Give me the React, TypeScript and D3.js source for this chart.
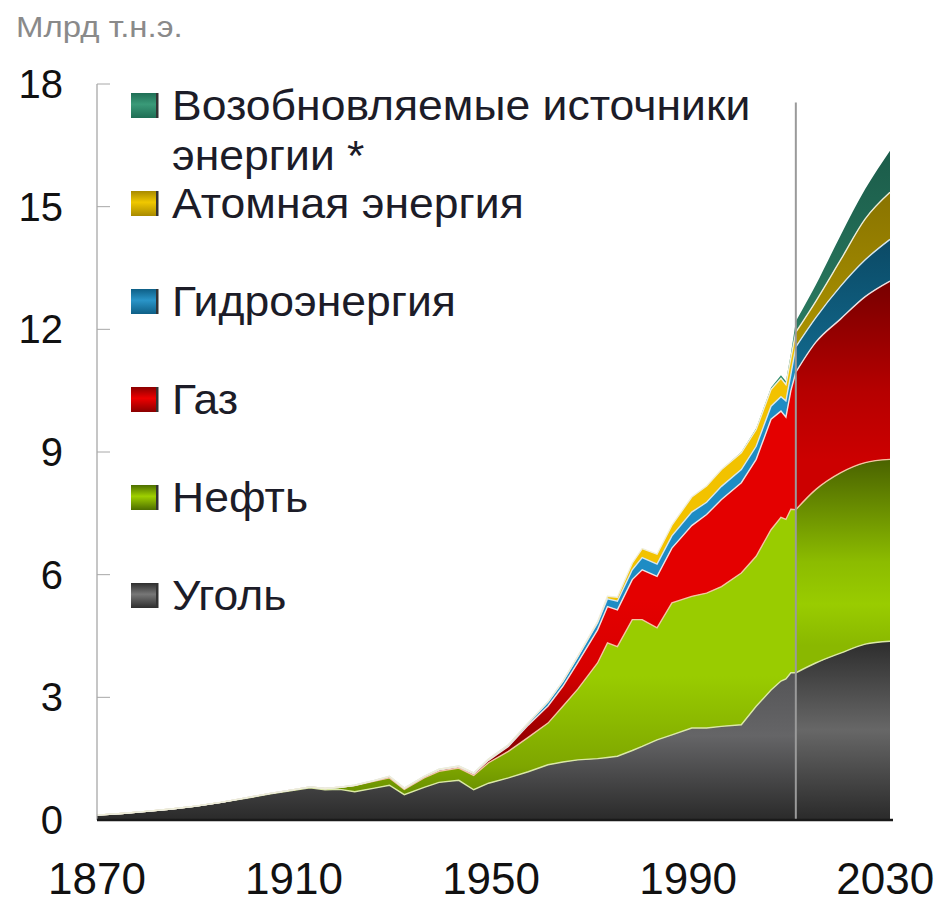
import React from "react";
import * as d3 from "d3";

// historical data, bln toe
const histYears = [1870, 1875, 1880, 1885, 1890, 1895, 1900, 1905, 1910, 1913, 1916, 1919, 1922, 1926, 1929, 1932, 1936, 1939, 1943, 1946, 1949, 1953, 1957, 1961, 1964, 1967, 1971, 1973, 1975, 1978, 1980, 1983, 1986, 1990, 1993, 1996, 2000, 2003, 2006, 2008, 2009, 2010];
const histCoal = [0.12, 0.16, 0.21, 0.27, 0.34, 0.43, 0.53, 0.64, 0.73, 0.79, 0.74, 0.75, 0.69, 0.78, 0.85, 0.62, 0.8, 0.92, 0.97, 0.74, 0.9, 1.03, 1.18, 1.35, 1.42, 1.47, 1.5, 1.53, 1.56, 1.7, 1.8, 1.96, 2.08, 2.25, 2.25, 2.29, 2.33, 2.78, 3.18, 3.4, 3.45, 3.6];
const histOil = [0, 0, 0, 0, 0, 0, 0.01, 0.01, 0.02, 0.02, 0.03, 0.05, 0.15, 0.17, 0.18, 0.13, 0.23, 0.27, 0.3, 0.35, 0.5, 0.65, 0.84, 1.02, 1.36, 1.73, 2.34, 2.8, 2.68, 3.2, 3.1, 2.74, 3.23, 3.22, 3.3, 3.42, 3.71, 3.67, 3.92, 4.0, 3.9, 4.0];
const histGas = [0, 0, 0, 0, 0, 0, 0, 0, 0, 0, 0, 0, 0.01, 0.02, 0.03, 0.02, 0.03, 0.03, 0.03, 0.04, 0.06, 0.12, 0.3, 0.42, 0.49, 0.65, 0.81, 0.89, 0.9, 0.98, 1.22, 1.26, 1.34, 1.73, 1.92, 2.13, 2.21, 2.37, 2.7, 2.6, 2.5, 2.9];
const histHydro = [0, 0, 0, 0, 0, 0, 0, 0, 0, 0, 0, 0, 0, 0, 0.01, 0.01, 0.01, 0.02, 0.02, 0.02, 0.03, 0.04, 0.05, 0.1, 0.12, 0.14, 0.17, 0.19, 0.21, 0.24, 0.3, 0.3, 0.3, 0.33, 0.3, 0.32, 0.32, 0.32, 0.32, 0.35, 0.4, 0.4];
const histNuclear = [0, 0, 0, 0, 0, 0, 0, 0, 0, 0, 0, 0, 0, 0, 0, 0, 0, 0, 0, 0, 0, 0, 0, 0, 0, 0.01, 0.03, 0.06, 0.1, 0.16, 0.22, 0.24, 0.26, 0.37, 0.4, 0.41, 0.41, 0.41, 0.41, 0.45, 0.4, 0.4];
const histRenew = [0, 0, 0, 0, 0, 0, 0, 0, 0, 0, 0, 0, 0, 0, 0, 0, 0, 0, 0, 0, 0, 0, 0, 0, 0, 0, 0, 0, 0, 0, 0, 0, 0, 0, 0, 0, 0.02, 0.03, 0.05, 0.08, 0.08, 0.1];

// forecast
const fcYears = [2011, 2015, 2020, 2025, 2030];
const fcCoal = [3.6, 3.84, 4.08, 4.3, 4.37];
const fcOil = [3.99, 4.24, 4.41, 4.44, 4.45];
const fcGas = [3.36, 3.6, 3.76, 4.06, 4.36];
const fcHydro = [0.62, 0.6, 0.8, 0.9, 1.02];
const fcNuclear = [0.36, 0.4, 0.64, 1.0, 1.15];
const fcRenew = [0.27, 0.4, 0.6, 0.73, 1.02];

const yTicks = [0, 3, 6, 9, 12, 15, 18];
const xTicks = [1870, 1910, 1950, 1990, 2030];
const keys = ["coal", "oil", "gas", "hydro", "nuclear", "renew"];

const legendItems = [
  { key: "renew", lines: ["Возобновляемые источники", "энергии *"] },
  { key: "nuclear", lines: ["Атомная энергия"] },
  { key: "hydro", lines: ["Гидроэнергия"] },
  { key: "gas", lines: ["Газ"] },
  { key: "oil", lines: ["Нефть"] },
  { key: "coal", lines: ["Уголь"] },
];

const histFill: Record<string, string> = {
  coal: "url(#hCoal)",
  oil: "url(#hOil)",
  gas: "url(#hGas)",
  hydro: "#1e8cc4",
  nuclear: "#f2c200",
  renew: "#2a8a6a",
};
const fcFill: Record<string, string> = {
  coal: "url(#fCoal)",
  oil: "url(#fOil)",
  gas: "url(#fGas)",
  hydro: "url(#fHydro)",
  nuclear: "url(#fNuc)",
  renew: "url(#fRen)",
};
const edgeColor: Record<string, string> = {
  coal: "#dbe9a6",
  oil: "#f3c6a2",
  gas: "#f1e2e2",
  hydro: "#d6e6ee",
  nuclear: "#f0eed8",
  renew: "none",
};
const swatchColor: Record<string, [string, string]> = {
  renew: ["#1f6e55", "#3a9a78"],
  nuclear: ["#a88a00", "#f0c800"],
  hydro: ["#0e5f86", "#2a95c8"],
  gas: ["#8a0000", "#ee0000"],
  oil: ["#4d6e00", "#9fd000"],
  coal: ["#2e2e2e", "#777777"],
};

function buildRows(years: number[], cols: number[][]) {
  return years.map((yr, i) => {
    const r: any = { year: yr };
    keys.forEach((k, j) => (r[k] = cols[j][i]));
    return r;
  });
}

const W = 946;
const H = 905;
const FONT = "'Liberation Sans', Arial, sans-serif";

export default function App() {
  const x = d3.scaleLinear().domain([1870, 2030]).range([97, 890]);
  const y = d3.scaleLinear().domain([0, 18]).range([820, 84]);

  const fcRows = buildRows(fcYears, [fcCoal, fcOil, fcGas, fcHydro, fcNuclear, fcRenew]);
  const histRows = buildRows(histYears, [histCoal, histOil, histGas, histHydro, histNuclear, histRenew]).concat([fcRows[0]]);

  const stack = d3.stack<any>().keys(keys);
  const histSeries = stack(histRows);
  const fcSeries = stack(fcRows);

  const areaH = d3.area<any>().x((d) => x(d.data.year)).y0((d) => y(d[0])).y1((d) => y(d[1]));
  const areaF = d3.area<any>().curve(d3.curveMonotoneX).x((d) => x(d.data.year)).y0((d) => y(d[0])).y1((d) => y(d[1]));
  const lineH = d3.line<any>().x((d) => x(d.data.year)).y((d) => y(d[1]));
  const lineF = d3.line<any>().curve(d3.curveMonotoneX).x((d) => x(d.data.year)).y((d) => y(d[1]));

  const splitX = x(fcYears[0]);

  return (
    <div style={{ position: "absolute", left: 0, top: 0 }}>
      <svg width={W} height={H} style={{ display: "block", background: "#fff" }} fontFamily={FONT}>
        <defs>
          <linearGradient id="hCoal" gradientUnits="userSpaceOnUse" x1="0" x2="0" y1="640" y2="820">
            <stop offset="0" stopColor="#4c4c4e" />
            <stop offset="0.53" stopColor="#656567" />
            <stop offset="1" stopColor="#2a2a2a" />
          </linearGradient>
          <linearGradient id="fCoal" gradientUnits="userSpaceOnUse" x1="0" x2="0" y1="640" y2="820">
            <stop offset="0" stopColor="#2c2c2c" />
            <stop offset="0.5" stopColor="#676767" />
            <stop offset="1" stopColor="#2a2a2a" />
          </linearGradient>
          <linearGradient id="hOil" gradientUnits="userSpaceOnUse" x1="0" x2="0" y1="460" y2="820">
            <stop offset="0" stopColor="#99cc00" />
            <stop offset="0.6" stopColor="#99cc00" />
            <stop offset="0.85" stopColor="#7ea600" />
            <stop offset="1" stopColor="#557a00" />
          </linearGradient>
          <linearGradient id="fOil" gradientUnits="userSpaceOnUse" x1="0" x2="0" y1="460" y2="645">
            <stop offset="0" stopColor="#4a6300" />
            <stop offset="0.55" stopColor="#8cbc00" />
            <stop offset="0.78" stopColor="#99cc00" />
            <stop offset="1" stopColor="#8ab800" />
          </linearGradient>
          <linearGradient id="hGas" gradientUnits="userSpaceOnUse" x1="0" x2="0" y1="600" y2="755">
            <stop offset="0" stopColor="#e40000" />
            <stop offset="0.45" stopColor="#d80000" />
            <stop offset="1" stopColor="#880000" />
          </linearGradient>
          <linearGradient id="fGas" gradientUnits="userSpaceOnUse" x1="0" x2="0" y1="290" y2="460">
            <stop offset="0" stopColor="#7c0000" />
            <stop offset="0.6" stopColor="#b60000" />
            <stop offset="1" stopColor="#cc0000" />
          </linearGradient>
          <linearGradient id="fHydro" gradientUnits="userSpaceOnUse" x1="0" x2="0" y1="240" y2="375">
            <stop offset="0" stopColor="#0b4a66" />
            <stop offset="1" stopColor="#126a8e" />
          </linearGradient>
          <linearGradient id="fNuc" gradientUnits="userSpaceOnUse" x1="0" x2="0" y1="195" y2="340">
            <stop offset="0" stopColor="#8a7400" />
            <stop offset="1" stopColor="#aa9200" />
          </linearGradient>
          <linearGradient id="fRen" gradientUnits="userSpaceOnUse" x1="0" x2="0" y1="150" y2="330">
            <stop offset="0" stopColor="#1b5c4a" />
            <stop offset="1" stopColor="#2a7a60" />
          </linearGradient>
          {legendItems.map((it) => (
            <linearGradient key={it.key} id={`sw-${it.key}`} x1="0" x2="0" y1="0" y2="1">
              <stop offset="0" stopColor={swatchColor[it.key][0]} />
              <stop offset="0.45" stopColor={swatchColor[it.key][1]} />
              <stop offset="1" stopColor={swatchColor[it.key][0]} />
            </linearGradient>
          ))}
        </defs>

        {/* title */}
        <text x={16} y={37} fontSize={33} fill="#8a8a8a" transform="translate(16,37) scale(1,0.88) translate(-16,-37)">Млрд т.н.э.</text>

        {/* historical part */}
        {histSeries.map((s) => (
          <path key={`h-${s.key}`} d={areaH(s) || ""} fill={histFill[s.key]} />
        ))}
        {histSeries.map((s) =>
          edgeColor[s.key] === "none" ? null : (
            <path key={`hl-${s.key}`} d={lineH(s) || ""} fill="none" stroke={edgeColor[s.key]} strokeWidth={1.4} />
          )
        )}

        {/* forecast part */}
        {fcSeries.map((s) => (
          <path key={`f-${s.key}`} d={areaF(s) || ""} fill={fcFill[s.key]} />
        ))}
        {fcSeries.map((s) =>
          edgeColor[s.key] === "none" ? null : (
            <path key={`fl-${s.key}`} d={lineF(s) || ""} fill="none" stroke={edgeColor[s.key]} strokeWidth={1.4} />
          )
        )}

        {/* split line */}
        <line x1={splitX} x2={splitX} y1={y(17.55)} y2={y(0)} stroke="#9a9a9a" strokeWidth={2} />

        {/* y axis */}
        <line x1={97} x2={97} y1={y(18)} y2={y(0)} stroke="#a0a0a0" strokeWidth={1.2} />
        {yTicks.map((t) => (
          <g key={t}>
            {t > 0 && <line x1={97} x2={110} y1={y(t)} y2={y(t)} stroke="#a8a8a8" strokeWidth={1} />}
            <text x={63} y={y(t) + 14} fontSize={40} textAnchor="end" fill="#111">{t}</text>
          </g>
        ))}

        {/* baseline */}
        <line x1={x(1870)} x2={893} y1={y(0)} y2={y(0)} stroke="#1a1a1a" strokeWidth={2.5} />

        {/* x labels */}
        {xTicks.map((t) => (
          <text key={t} x={x(t) - (t - 1870) * 0.03} y={894} fontSize={44} textAnchor="middle" fill="#111">{t}</text>
        ))}

        {/* legend */}
        {legendItems.map((it, i) => {
          const base = 120 + i * 98;
          return (
            <g key={it.key}>
              <rect x={131} y={base - 27} width={25} height={25} fill={`url(#sw-${it.key})`} />
              <rect x={156} y={base - 27} width={2.5} height={25} fill="#333" />
              {it.lines.map((ln, j) => (
                <text key={j} x={0} y={0} fontSize={42} fill="#1c1c28"
                  transform={`translate(172,${base + j * 50}) scale(1.06,1)`}>{ln}</text>
              ))}
            </g>
          );
        })}
      </svg>
    </div>
  );
}
